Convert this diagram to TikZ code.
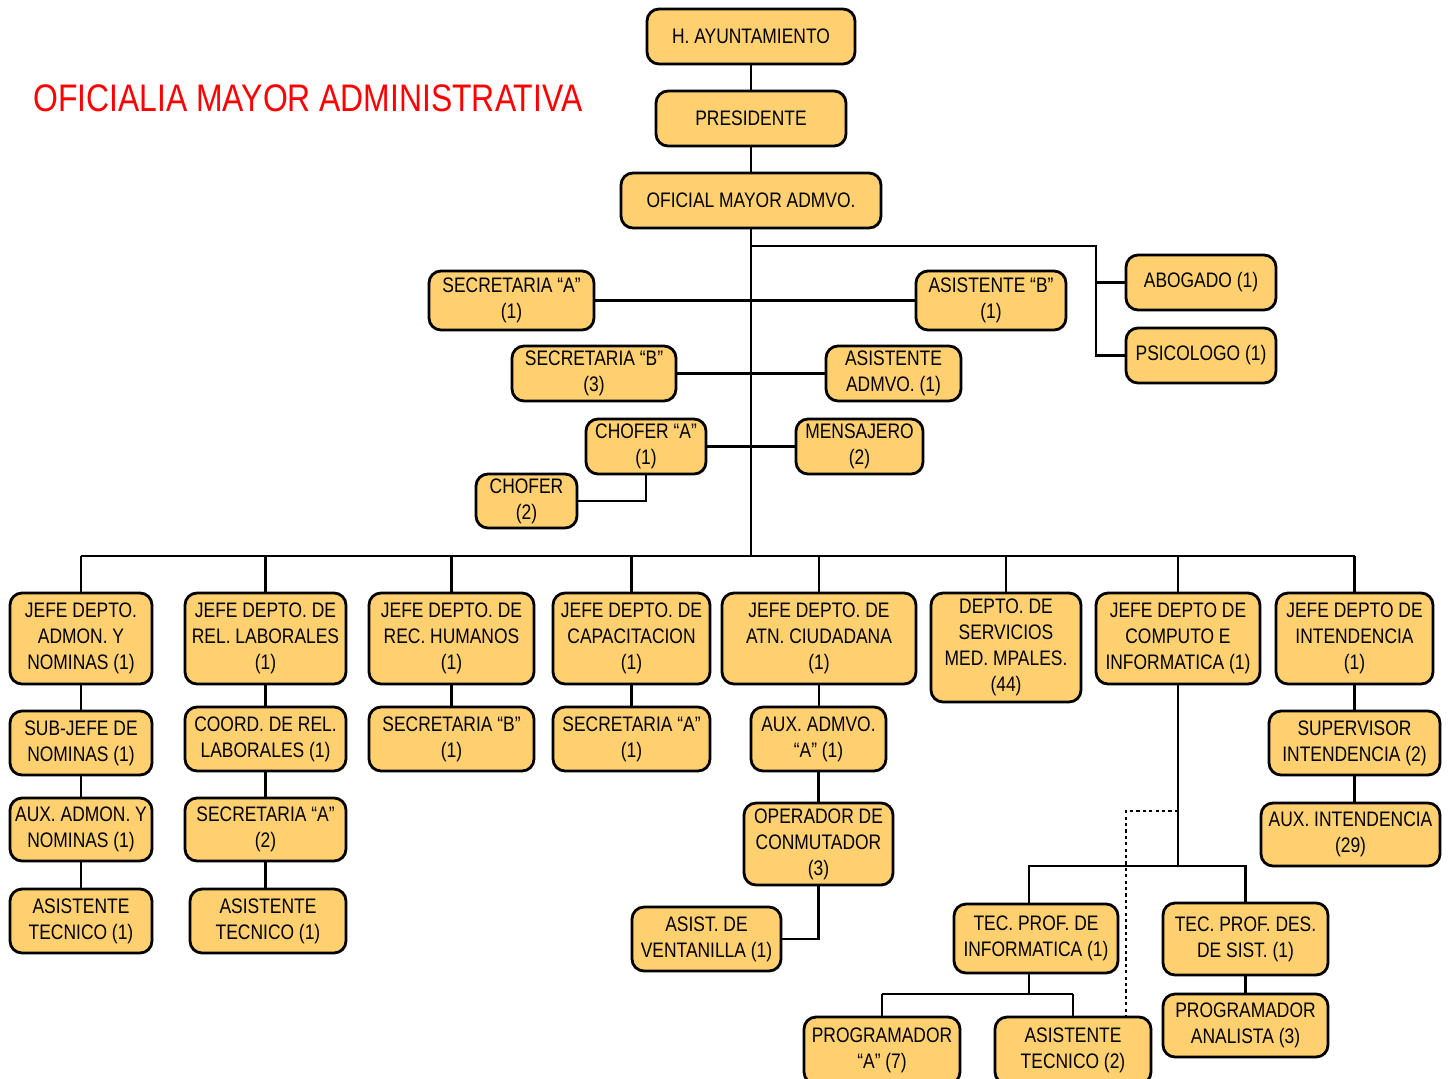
\documentclass[tikz,border=0pt]{standalone}
\usepackage{fontspec}
\setmainfont{Liberation Sans}[FakeStretch=0.83]
\definecolor{boxfill}{RGB}{255,208,112}
\definecolor{titlered}{RGB}{255,0,0}
\tikzset{
  box/.style={draw=black, line width=1.4pt, fill=boxfill, rounded corners=6pt,
    inner sep=0pt, align=center, font=\fontsize{10.5}{13}\selectfont},
  link/.style={draw=black, line width=1.1pt},
  dotlink/.style={link, dash pattern=on 1.6pt off 1.6pt},
}
% \orgbox{name}{x1}{y1}{x2}{y2}{text}: a rounded box spanning the given corners
% (one unit is 0.5pt)
\newcommand{\orgbox}[6]{%
  \pgfmathsetmacro\bxw{(#4-#2)*0.5}%
  \pgfmathsetmacro\bxh{(#5-#3)*0.5}%
  \node[box, minimum width=\bxw pt, minimum height=\bxh pt]
    (#1) at ({(#2+#4)/2},{(#3+#5)/2}) {#6};}
\begin{document}
\begin{tikzpicture}[x=0.5pt, y=-0.5pt]
\useasboundingbox (0,0) rectangle (1450,1078);

\node[anchor=west, inner sep=0pt, text=titlered, font=\fontsize{19.2}{22}\selectfont]
  (title) at (33,98) {OFICIALIA MAYOR ADMINISTRATIVA};

% top of the hierarchy
\orgbox{hay}{647}{9}{855}{64}{H. AYUNTAMIENTO}
\orgbox{pres}{656}{91}{846}{146}{PRESIDENTE}
\orgbox{ofm}{621}{173}{881}{228}{OFICIAL MAYOR ADMVO.}

% staff positions
\orgbox{abo}{1126}{255}{1276}{310}{ABOGADO (1)}
\orgbox{psi}{1126}{328}{1276}{383}{PSICOLOGO (1)}
\orgbox{seca}{429}{271}{594}{330}{SECRETARIA “A”\\(1)}
\orgbox{asib}{916}{271}{1066}{330}{ASISTENTE “B”\\(1)}
\orgbox{secb}{512}{346}{676}{401}{SECRETARIA “B”\\(3)}
\orgbox{asad}{826}{346}{961}{401}{ASISTENTE\\ADMVO. (1)}
\orgbox{chofa}{586}{419}{706}{474}{CHOFER “A”\\(1)}
\orgbox{mens}{796}{419}{923}{474}{MENSAJERO\\(2)}
\orgbox{chof}{476}{474}{577}{528}{CHOFER\\(2)}

% departments
\orgbox{dA}{10}{593}{152}{684}{JEFE DEPTO.\\ADMON. Y\\NOMINAS (1)}
\orgbox{dB}{185}{593}{346}{684}{JEFE DEPTO. DE\\REL. LABORALES\\(1)}
\orgbox{dC}{369}{593}{534}{684}{JEFE DEPTO. DE\\REC. HUMANOS\\(1)}
\orgbox{dD}{553}{593}{710}{684}{JEFE DEPTO. DE\\CAPACITACION\\(1)}
\orgbox{dE}{722}{593}{916}{684}{JEFE DEPTO. DE\\ATN. CIUDADANA\\(1)}
\orgbox{dF}{931}{593}{1081}{702}{DEPTO. DE\\SERVICIOS\\MED. MPALES.\\(44)}
\orgbox{dG}{1096}{593}{1260}{684}{JEFE DEPTO DE\\COMPUTO E\\INFORMATICA (1)}
\orgbox{dH}{1276}{593}{1433}{684}{JEFE DEPTO DE\\INTENDENCIA\\(1)}

% department staff
\orgbox{a1}{10}{711}{152}{775}{SUB-JEFE DE\\NOMINAS (1)}
\orgbox{a2}{10}{798}{152}{861}{AUX. ADMON. Y\\NOMINAS (1)}
\orgbox{a3}{10}{889}{152}{953}{ASISTENTE\\TECNICO (1)}
\orgbox{b1}{185}{707}{346}{771}{COORD. DE REL.\\LABORALES (1)}
\orgbox{b2}{185}{798}{346}{861}{SECRETARIA “A”\\(2)}
\orgbox{b3}{190}{889}{346}{953}{ASISTENTE\\TECNICO (1)}
\orgbox{c1}{369}{707}{534}{771}{SECRETARIA “B”\\(1)}
\orgbox{d1}{553}{707}{710}{771}{SECRETARIA “A”\\(1)}
\orgbox{e1}{751}{707}{886}{771}{AUX. ADMVO.\\“A” (1)}
\orgbox{e2}{744}{803}{893}{885}{OPERADOR DE\\CONMUTADOR\\(3)}
\orgbox{e3}{632}{907}{781}{971}{ASIST. DE\\VENTANILLA (1)}
\orgbox{h1}{1269}{711}{1440}{775}{SUPERVISOR\\INTENDENCIA (2)}
\orgbox{h2}{1261}{803}{1440}{866}{AUX. INTENDENCIA\\(29)}
\orgbox{g1}{954}{904}{1118}{973}{TEC. PROF. DE\\INFORMATICA (1)}
\orgbox{g2}{1163}{903}{1328}{975}{TEC. PROF. DES.\\DE SIST. (1)}
\orgbox{g3}{1163}{994}{1328}{1057}{PROGRAMADOR\\ANALISTA (3)}
\orgbox{g4}{804}{1017}{960}{1084}{PROGRAMADOR\\“A” (7)}
\orgbox{g5}{995}{1017}{1151}{1084}{ASISTENTE\\TECNICO (2)}

% junction points
\coordinate (bus) at (751,556);
\coordinate (rj) at (1096,246);
\coordinate (gj) at (1178,866);
\coordinate (gx) at (1029,866);
\coordinate (gy) at (1029,994);
\coordinate (dj) at (1178,811);
\coordinate (dk) at (1126,811);

% main line
\draw[link] (hay) -- (pres);
\draw[link] (pres) -- (ofm);
\draw[link] (ofm.south) -- (bus);
\draw[link] (ofm.south |- rj) -- (rj) |- (psi.west);
\draw[link] (rj |- abo.west) -- (abo.west);
\draw[link] (seca.east) -- (asib.west);
\draw[link] (secb.east) -- (asad.west);
\draw[link] (chofa.east) -- (mens.west);
\draw[link] (chofa.south) |- (chof.east);

% departments bus
\draw[link] (dA.north |- bus) -- (dH.north |- bus);
\foreach \d in {dA,dB,dC,dD,dE,dF,dG,dH}
  \draw[link] (\d.north) -- (\d.north |- bus);

% columns
\draw[link] (dA) -- (a1);
\draw[link] (a1) -- (a2);
\draw[link] (a2) -- (a3);
\draw[link] (dB) -- (b1);
\draw[link] (b1) -- (b2);
\draw[link] (b2.south) -- (b2.south |- b3.north);
\draw[link] (dC) -- (c1);
\draw[link] (dD) -- (d1);
\draw[link] (dE.south) -- (dE.south |- e1.north);
\draw[link] (e1.south) -- (e1.south |- e2.north);
\draw[link] (e2.south) |- (e3.east);
\draw[link] (dH.south) -- (dH.south |- h1.north);
\draw[link] (h1.south) -- (h1.south |- h2.north);

% computing branch
\draw[link] (dG.south) -- (gj);
\draw[link] (g1.north -| gx) -- (gx) -- (g2.north |- gx) -- (g2.north);
\draw[link] (g2) -- (g3);
\draw[link] (g1.south -| gy) -- (gy);
\draw[link] (g4.north |- gy) -- (g5.north |- gy);
\draw[link] (g4.north) -- (g4.north |- gy);
\draw[link] (g5.north) -- (g5.north |- gy);
\draw[dotlink] (dj) -- (dk) -- (dk |- g5.north);
\end{tikzpicture}
\end{document}
